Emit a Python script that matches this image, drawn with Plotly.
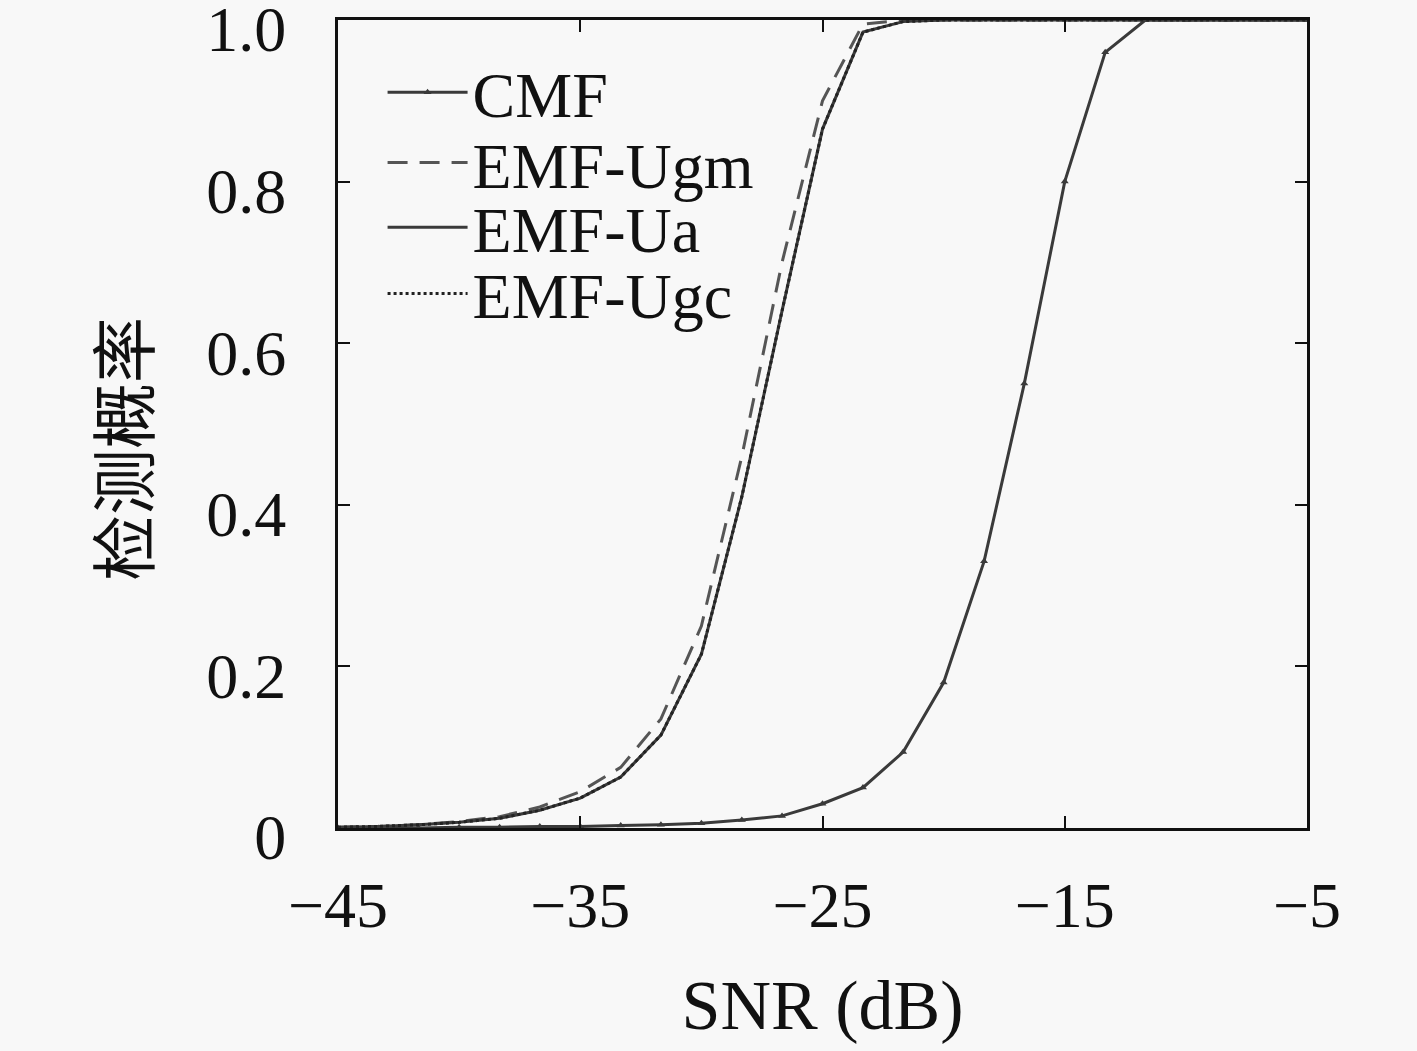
import plotly.graph_objects as go

snr = [-45, -43.33, -41.67, -40, -38.33, -36.67, -35, -33.33, -31.67, -30,
       -28.33, -26.67, -25, -23.33, -21.67, -20, -18.33, -16.67, -15, -13.33,
       -11.67, -10, -8.33, -6.67, -5]

cmf = [0.0, 0.0, 0.0, 0.001, 0.001, 0.002, 0.002, 0.003, 0.004, 0.006,
       0.010, 0.015, 0.030, 0.050, 0.094, 0.180, 0.330, 0.550, 0.800, 0.960,
       1.0, 1.0, 1.0, 1.0, 1.0]

emf_ugm = [0.001, 0.002, 0.004, 0.008, 0.014, 0.026, 0.045, 0.075, 0.135, 0.250,
           0.460, 0.700, 0.900, 0.995, 1.0, 1.0, 1.0, 1.0, 1.0, 1.0,
           1.0, 1.0, 1.0, 1.0, 1.0]

emf_ua = [0.001, 0.002, 0.004, 0.007, 0.012, 0.022, 0.037, 0.063, 0.115, 0.215,
          0.410, 0.640, 0.865, 0.985, 0.998, 1.0, 1.0, 1.0, 1.0, 1.0,
          1.0, 1.0, 1.0, 1.0, 1.0]

emf_ugc = [0.001, 0.002, 0.004, 0.007, 0.012, 0.022, 0.037, 0.063, 0.115, 0.215,
           0.410, 0.640, 0.865, 0.985, 0.998, 1.0, 1.0, 1.0, 1.0, 1.0,
           1.0, 1.0, 1.0, 1.0, 1.0]

x_tickvals = [-45, -35, -25, -15, -5]
x_ticktext = ["\u221245", "\u221235", "\u221225", "\u221215", "\u22125"]
y_tickvals = [0, 0.2, 0.4, 0.6, 0.8, 1.0]
y_ticktext = ["0", "0.2", "0.4", "0.6", "0.8", "1.0"]

series_names = ["CMF", "EMF-Ugm", "EMF-Ua", "EMF-Ugc"]
x_title = "SNR (dB)"
y_title = "检测概率"

serif = "Liberation Serif, DejaVu Serif, serif"
line_col = "#3a3a3a"
fs = 64

fig = go.Figure()
fig.add_trace(go.Scatter(x=snr, y=cmf, name=series_names[0], mode="lines+markers",
                         line=dict(color=line_col, width=3), legend="legend",
                         marker=dict(symbol="triangle-up", size=7, color=line_col)))
fig.add_trace(go.Scatter(x=snr, y=emf_ugm, name=series_names[1], mode="lines",
                         legend="legend2",
                         line=dict(color="#555555", width=3, dash="20px,12px")))
fig.add_trace(go.Scatter(x=snr, y=emf_ua, name=series_names[2], mode="lines",
                         legend="legend3",
                         line=dict(color=line_col, width=3)))
fig.add_trace(go.Scatter(x=snr, y=emf_ugc, name=series_names[3], mode="lines",
                         legend="legend4",
                         line=dict(color="#222222", width=3, dash="dot")))

bg = "#f8f8f8"


def leg(yc):
    return dict(x=0.046, y=yc, xanchor="left", yanchor="middle",
                bgcolor="rgba(0,0,0,0)", borderwidth=0,
                font=dict(family=serif, size=fs, color="#111111"),
                itemwidth=80)


fig.update_layout(
    width=1417, height=1051,
    margin=dict(l=338, r=110, t=20, b=223, autoexpand=False),
    paper_bgcolor=bg, plot_bgcolor=bg,
    font=dict(family=serif, size=fs, color="#111111"),
    showlegend=True,
    legend=leg(0.910), legend2=leg(0.823), legend3=leg(0.743), legend4=leg(0.661),
)
fig.add_annotation(text=y_title, xref="paper", yref="paper", x=-0.225, y=0.469,
                   xanchor="center", yanchor="middle", textangle=-90, showarrow=False,
                   font=dict(family="Noto Sans CJK SC", size=66, color="#111111"))
fig.update_xaxes(range=[-45, -5], tickvals=x_tickvals, ticktext=x_ticktext,
                 ticks="inside", ticklen=12, tickwidth=2, tickcolor="#111111",
                 showline=True, linecolor="#111111", linewidth=3, mirror="ticks",
                 showgrid=False, zeroline=False, ticklabelstandoff=19, automargin=False,
                 tickfont=dict(family=serif, size=fs), ticklabeloverflow="allow",
                 title=dict(text=x_title, font=dict(family=serif, size=70), standoff=41))
fig.update_yaxes(range=[0, 1.0], tickvals=y_tickvals, ticktext=y_ticktext,
                 ticks="inside", ticklen=12, tickwidth=2, tickcolor="#111111",
                 showline=True, linecolor="#111111", linewidth=3, mirror="ticks",
                 showgrid=False, zeroline=False, ticklabelstandoff=36, automargin=False,
                 tickfont=dict(family=serif, size=fs), ticklabeloverflow="allow",
                 ticklabelshift=9)

fig.write_html("out.html", config={"displayModeBar": False},
               post_script="document.body.style.margin='0';")
